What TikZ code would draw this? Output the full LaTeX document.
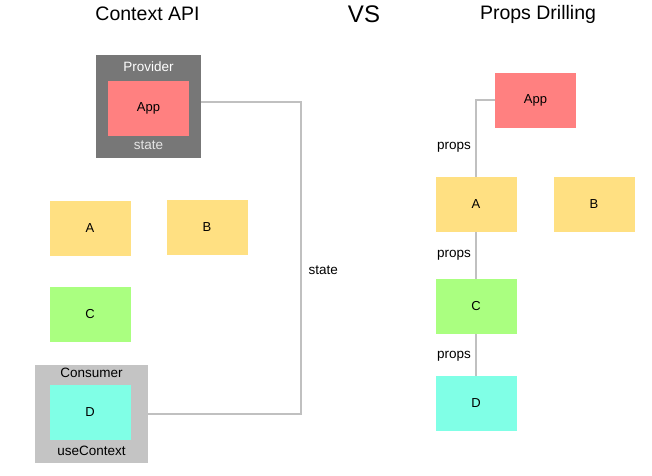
\documentclass[tikz,border=0pt]{standalone}
\usepackage{fontspec}
\setmainfont{Liberation Sans}
\definecolor{appred}{RGB}{255,128,128}
\definecolor{compyellow}{RGB}{255,224,130}
\definecolor{compgreen}{RGB}{170,255,128}
\definecolor{compcyan}{RGB}{128,255,230}
\definecolor{providergray}{RGB}{119,119,119}
\definecolor{consumergray}{RGB}{196,196,196}
\definecolor{linegray}{RGB}{192,192,192}
\begin{document}
\begin{tikzpicture}[x=1pt,y=-1pt,
    comp/.style={rectangle, inner sep=0pt, minimum width=81pt, minimum height=55pt, font=\fontsize{13}{15}\selectfont},
    wrap/.style={rectangle, inner sep=0pt},
    conn/.style={linegray, line width=2pt},
    lbl/.style={font=\fontsize{13.5}{15}\selectfont}]
    \useasboundingbox (0,0) rectangle (652,475);

    % Títulos
    \node[font=\fontsize{19.5}{22}\selectfont] (t1) at (147.5,14) {Context API};
    \node[font=\fontsize{24}{28}\selectfont] (vs) at (364,14) {VS};
    \node[font=\fontsize{19.5}{22}\selectfont] (t2) at (538,14) {Props Drilling};

    % Context API
    \node[wrap, fill=providergray, minimum width=105pt, minimum height=103pt] (prov) at (148.5,106.5) {};
    \node[lbl, white] (provtxt) at (148.5,67) {Provider};
    \node[comp, fill=appred] (app) at (148.5,108.5) {App};
    \node[lbl, white!80!gray] (sttxt) at (148.5,145) {state};

    \node[comp, fill=compyellow] (a) at (90,228.5) {A};
    \node[comp, fill=compyellow] (b) at (207,227.5) {B};
    \node[comp, fill=compgreen] (c) at (90,314.5) {C};

    \node[wrap, fill=consumergray, minimum width=113pt, minimum height=98pt] (cons) at (91.5,414) {};
    \node[lbl] (constxt) at (91.5,373) {Consumer};
    \node[comp, fill=compcyan] (d) at (90,412) {D};
    \node[lbl] (usetxt) at (91.5,451) {useContext};

    \coordinate (mid) at (301,270);
    \draw[conn] ([yshift=5pt]prov.east) -| (mid) |- (cons.east);
    \node[lbl, right] (sttxt2) at (305,270) {state};

    % Props Drilling
    \node[comp, fill=appred] (app2) at (535.5,100) {App};
    \node[comp, fill=compyellow] (a2) at (476,204.5) {A};
    \node[comp, fill=compyellow] (b2) at (594,204.5) {B};
    \node[comp, fill=compgreen] (c2) at (476,306.5) {C};
    \node[comp, fill=compcyan] (d2) at (476,403.5) {D};

    \draw[conn] (app2.west) -| (a2.north);
    \draw[conn] (a2.south) -- (c2.north);
    \draw[conn] (c2.south) -- (d2.north);

    \foreach \n/\y in {p1/147, p2/255, p3/356} {
        \node[lbl] (\n) at (454,\y) {props};
    }
\end{tikzpicture}
\end{document}
